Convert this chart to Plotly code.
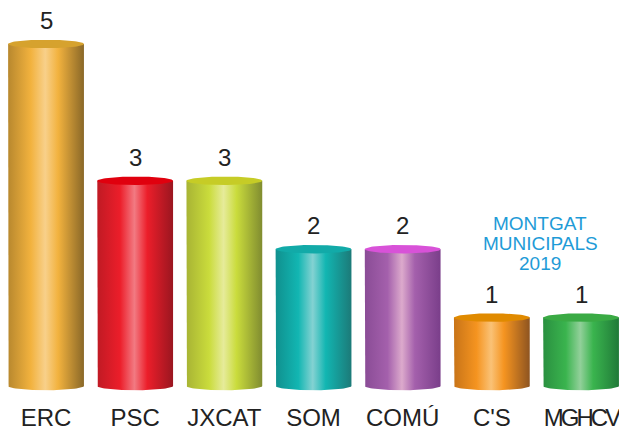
import numpy as np
import plotly.graph_objects as go

parties = ["ERC", "PSC", "JXCAT", "SOM", "COMÚ", "C'S", "MGHCV"]
seats = [5, 3, 3, 2, 2, 1, 1]

edge_col = ["#b8882e", "#c01a24", "#a8b434", "#10908e", "#8a4c96", "#c87418", "#2a9040"]
base_col = ["#f2b23e", "#ec1e2a", "#cadc3c", "#12b6b2", "#a460ac", "#f59420", "#3ab44e"]
light_col = ["#f8d08a", "#f27a82", "#e6eb9a", "#84d2d2", "#dcaacc", "#fac276", "#92d09a"]
dark_col = ["#8a6828", "#9a1620", "#808c30", "#1c7a78", "#7a3e8a", "#8e5420", "#207a38"]
top_col = ["#d6a22e", "#e0000e", "#c6cc26", "#12aaa8", "#d852d8", "#e08a00", "#3aaa44"]

title_lines = ["MONTGAT", "MUNICIPALS", "2019"]

half_w = 0.425
ry = 0.062

fig = go.Figure()
t = np.linspace(0, np.pi, 40)
tt = np.linspace(0, 2 * np.pi, 90)
for i, (p, v) in enumerate(zip(parties, seats)):
    x0, x1 = i - half_w, i + half_w
    arc_x = i - half_w * np.cos(t)
    arc_y = -ry * np.sin(t)
    xs = [x0] + list(arc_x) + [x1, x0]
    ys = [v] + list(arc_y) + [v, v]
    fig.add_trace(go.Scatter(
        x=xs, y=ys, fill="toself", mode="lines", line=dict(width=0),
        fillgradient=dict(type="horizontal", start=x0, stop=x1,
                          colorscale=[[0, edge_col[i]], [0.3, base_col[i]],
                                      [0.49, light_col[i]], [0.66, base_col[i]],
                                      [1, dark_col[i]]]),
        hoverinfo="skip", showlegend=False))
    fig.add_trace(go.Scatter(
        x=i + half_w * np.cos(tt), y=v + ry * np.sin(tt), fill="toself",
        mode="lines", line=dict(width=0), fillcolor=top_col[i],
        hoverinfo="skip", showlegend=False))
    fig.add_annotation(x=i, y=v, text=str(v), showarrow=False, yanchor="bottom",
                       yshift=8, font=dict(size=24, color="#222222"))

for k, line in enumerate(title_lines):
    fig.add_annotation(xref="paper", yref="paper", x=540 / 619, y=1 - (223 + 20 * k) / 393,
                       text=line, showarrow=False, xanchor="center", yanchor="middle",
                       font=dict(size=19, color="#1e9bd7"))

ticktext = ["<span style='letter-spacing:-3px'>" + p + "</span>"
            if p == "MGHCV" else p for p in parties]

fig.update_layout(
    width=619, height=429,
    margin=dict(l=0, r=0, t=0, b=36, autoexpand=False),
    paper_bgcolor="white", plot_bgcolor="white",
    font=dict(family="Liberation Sans, Arial, sans-serif", color="#222222"),
    xaxis=dict(range=[-0.516, 6.426], tickvals=list(range(len(parties))), ticktext=ticktext,
               showgrid=False, zeroline=False, showline=False, ticks="",
               tickfont=dict(size=24, color="#222222"), ticklabelstandoff=8,
               ticklabeloverflow="allow", automargin=False, fixedrange=True),
    yaxis=dict(range=[-0.102, 5.643], visible=False, automargin=False, fixedrange=True),
)

fig.write_html("out.html",
               post_script="var d=document.getElementById('{plot_id}');"
                           "d.style.overflow='hidden';d.style.height='429px';d.style.width='619px';"
                           "document.body.style.margin='0';document.body.style.overflow='hidden';"
                           "document.documentElement.style.overflow='hidden';",
               config={"displayModeBar": False})
